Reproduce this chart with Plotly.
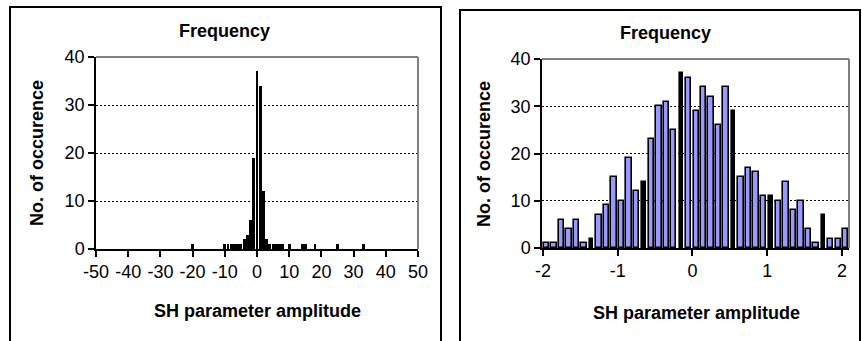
import plotly.graph_objects as go

# ---------------- data ----------------
left_bins = [-20, -10, -9, -8, -7, -6, -5, -4, -3, -2, -1, 0, 1, 2, 3,
             4, 5, 6, 7, 8, 10, 14, 15, 18, 25, 33]
left_counts = [1, 1, 1, 1, 1, 1, 1, 2, 3, 6, 19, 37, 34, 12, 2,
               1, 1, 1, 1, 1, 1, 1, 1, 1, 1, 1]
left_ticks = [-50, -40, -30, -20, -10, 0, 10, 20, 30, 40, 50]

right_bins = [-1.95, -1.85, -1.75, -1.65, -1.55, -1.45, -1.35, -1.25, -1.15, -1.05,
              -0.95, -0.85, -0.75, -0.65, -0.55, -0.45, -0.35, -0.25, -0.15, -0.05,
              0.05, 0.15, 0.25, 0.35, 0.45, 0.55, 0.65, 0.75, 0.85, 0.95,
              1.05, 1.15, 1.25, 1.35, 1.45, 1.55, 1.65, 1.75, 1.85, 1.95, 2.05]
right_counts = [1, 1, 6, 4, 6, 1, 2, 7, 9, 15,
                10, 19, 12, 14, 23, 30, 31, 25, 37, 36,
                29, 34, 32, 26, 34, 29, 15, 17, 16, 11,
                11, 10, 14, 8, 10, 4, 1, 7, 2, 2, 4]
right_ticks = [-2, -1, 0, 1, 2]
y_ticks = [0, 10, 20, 30, 40]

title_text = "Frequency"
x_title = "SH parameter amplitude"
y_title = "No. of occurence"

# ---------------- style ----------------
W, H = 862, 341
FONT = "Liberation Sans, Arial, sans-serif"
BLUE = "#9999FF"
# bars that render as solid black (thin) in the original picture
dark_idx = {6, 13, 18, 25, 30, 37}

def px_x(v):
    return v / W

def px_y(v):
    return 1 - v / H

def labels(vals):
    return ["%g" % v for v in vals]

fig = go.Figure()

fig.add_trace(go.Bar(
    x=left_bins, y=left_counts, xaxis="x", yaxis="y",
    width=0.9, marker=dict(color="black", line=dict(width=0)),
    showlegend=False, hoverinfo="x+y"))

r_colors = ["black" if i in dark_idx else BLUE for i in range(len(right_bins))]
r_widths = [0.045 if i in dark_idx else 0.072 for i in range(len(right_bins))]
fig.add_trace(go.Bar(
    x=right_bins, y=right_counts, xaxis="x2", yaxis="y2",
    width=r_widths, marker=dict(color=r_colors, line=dict(color="black", width=1.6)),
    showlegend=False, hoverinfo="x+y"))

tick_font = dict(family=FONT, size=18, color="black")
common_x = dict(showline=True, linecolor="black", linewidth=1.5, ticks="outside",
                ticklen=6, tickwidth=1.5, tickcolor="black", showgrid=False,
                zeroline=False, tickangle=0, tickfont=tick_font, fixedrange=True,
                automargin=False)
common_y = dict(showline=True, linecolor="black", linewidth=1.5, ticks="outside",
                ticklen=6, tickwidth=1.5, tickcolor="black", showgrid=True,
                gridcolor="black", gridwidth=1, griddash="2px,2px",
                zeroline=False, range=[0, 40], tickvals=y_ticks, ticktext=labels(y_ticks),
                tickfont=tick_font, fixedrange=True, automargin=False)

fig.update_layout(
    width=W, height=H,
    margin=dict(l=0, r=0, t=0, b=0, pad=0, autoexpand=False),
    paper_bgcolor="white", plot_bgcolor="white",
    font=dict(family=FONT, color="black"),
    bargap=0,
    xaxis=dict(domain=[px_x(96), px_x(418)], range=[-50, 50], tickvals=left_ticks,
               ticktext=labels(left_ticks), anchor="y", **common_x),
    yaxis=dict(domain=[px_y(249), px_y(57)], anchor="x", **common_y),
    xaxis2=dict(domain=[px_x(542), px_x(849)], range=[-2.013, 2.094],
                tickvals=right_ticks, ticktext=labels(right_ticks), anchor="y2", **common_x),
    yaxis2=dict(domain=[px_y(248), px_y(59)], anchor="x2", **common_y),
)

bold = dict(family=FONT, size=18, color="black")
ann = [
    (224, 31, title_text, 0),
    (665, 33, title_text, 0),
    (257, 311, x_title, 0),
    (696, 313, x_title, 0),
    (37, 153, y_title, -90),
    (484, 154, y_title, -90),
]
for x, y, t, ang in ann:
    fig.add_annotation(x=px_x(x), y=px_y(y), xref="paper", yref="paper",
                       text="<b>%s</b>" % t, showarrow=False, textangle=ang,
                       font=bold, xanchor="center", yanchor="middle")

shapes = []
# gray top/right border of plot areas
for xa, ya in (("x", "y"), ("x2", "y2")):
    shapes.append(dict(type="line", xref=xa + " domain", yref=ya + " domain",
                       x0=0, x1=1, y0=1, y1=1, line=dict(color="#808080", width=2)))
    shapes.append(dict(type="line", xref=xa + " domain", yref=ya + " domain",
                       x0=1, x1=1, y0=0, y1=1, line=dict(color="#808080", width=2)))
# panel frames (bottom edge lies outside the visible page, as in the original)
shapes.append(dict(type="rect", xref="paper", yref="paper",
                   x0=px_x(10), x1=px_x(441), y0=px_y(420), y1=px_y(7),
                   line=dict(color="black", width=2), fillcolor="rgba(0,0,0,0)"))
shapes.append(dict(type="rect", xref="paper", yref="paper",
                   x0=px_x(460), x1=px_x(860), y0=px_y(420), y1=px_y(10),
                   line=dict(color="black", width=2), fillcolor="rgba(0,0,0,0)"))
fig.update_layout(shapes=shapes)

fig.write_html("out.html", config=dict(displayModeBar=False),
               post_script="document.body.style.margin='0';document.body.style.overflow='hidden';")
